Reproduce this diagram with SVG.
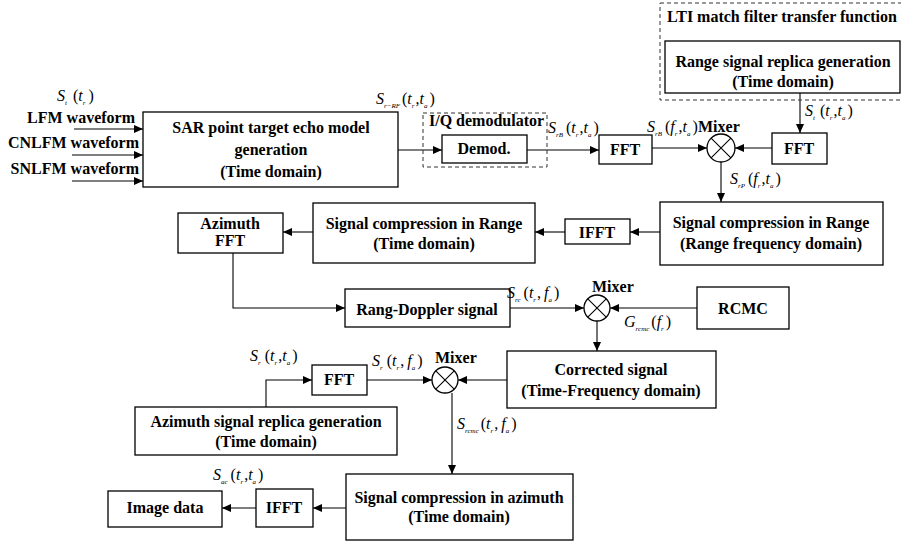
<svg xmlns="http://www.w3.org/2000/svg" width="901" height="541" viewBox="0 0 901 541">
<style>
.box{fill:#fff;stroke:#000;stroke-width:1.3}
.dash{fill:none;stroke:#333;stroke-width:1;stroke-dasharray:4,3}
.ln{fill:none;stroke:#000;stroke-width:1.1}
.t{font-family:"Liberation Serif","Times New Roman",serif;font-weight:bold;font-size:16px;fill:#000}
.c{text-anchor:middle}
.m{font-family:"Liberation Serif","Times New Roman",serif;font-style:italic;font-size:16px;fill:#000}
.s{font-size:7px}
.u{font-style:normal}
</style>
<defs>
<marker id="ah" markerWidth="9" markerHeight="8" refX="9" refY="4" orient="auto" markerUnits="userSpaceOnUse">
<path d="M0,0 L9,4 L0,8 Z" fill="#000"/>
</marker>
</defs>

<g id="connectors">
<line class="ln" x1="74" y1="129" x2="143" y2="129" marker-end="url(#ah)"/>
<line class="ln" x1="72" y1="155" x2="143" y2="155" marker-end="url(#ah)"/>
<line class="ln" x1="72" y1="181" x2="143" y2="181" marker-end="url(#ah)"/>
<line class="ln" x1="398" y1="150" x2="442" y2="150" marker-end="url(#ah)"/>
<line class="ln" x1="527" y1="150" x2="599" y2="150" marker-end="url(#ah)"/>
<line class="ln" x1="652" y1="148" x2="707" y2="148" marker-end="url(#ah)"/>
<line class="ln" x1="772" y1="148" x2="735" y2="148" marker-end="url(#ah)"/>
<line class="ln" x1="800" y1="93" x2="800" y2="133" marker-end="url(#ah)"/>
<line class="ln" x1="721" y1="162" x2="721" y2="202" marker-end="url(#ah)"/>
<line class="ln" x1="660" y1="232" x2="630" y2="232" marker-end="url(#ah)"/>
<line class="ln" x1="565" y1="232" x2="535" y2="232" marker-end="url(#ah)"/>
<line class="ln" x1="313" y1="232" x2="283" y2="232" marker-end="url(#ah)"/>
<polyline class="ln" points="233,253 233,308 345,308" marker-end="url(#ah)"/>
<line class="ln" x1="510" y1="308" x2="584" y2="308" marker-end="url(#ah)"/>
<line class="ln" x1="697" y1="308" x2="610" y2="308" marker-end="url(#ah)"/>
<line class="ln" x1="597" y1="321" x2="597" y2="351" marker-end="url(#ah)"/>
<line class="ln" x1="507" y1="380" x2="458" y2="380" marker-end="url(#ah)"/>
<line class="ln" x1="367" y1="380" x2="432" y2="380" marker-end="url(#ah)"/>
<polyline class="ln" points="266,407 266,380 312,380" marker-end="url(#ah)"/>
<line class="ln" x1="452" y1="393" x2="452" y2="474" marker-end="url(#ah)"/>
<line class="ln" x1="346" y1="508" x2="313" y2="508" marker-end="url(#ah)"/>
<line class="ln" x1="256" y1="508" x2="222" y2="508" marker-end="url(#ah)"/>
</g>

<g id="inputs">
<text class="t" x="135" y="123" text-anchor="end">LFM waveform</text>
<text class="t" x="139" y="148" text-anchor="end">CNLFM waveform</text>
<text class="t" x="139" y="174" text-anchor="end">SNLFM waveform</text>
</g>

<g id="sar">
<rect class="box" x="143" y="112" width="255" height="75"/>
<text class="t c" x="271" y="133">SAR point target echo model</text>
<text class="t c" x="271" y="155">generation</text>
<text class="t c" x="271" y="177">(Time domain)</text>
</g>

<g id="iq">
<rect class="dash" x="423" y="113" width="124" height="54"/>
<text class="t" x="429" y="126">I/Q demodulator</text>
</g>
<g id="demod">
<rect class="box" x="442" y="135" width="85" height="28"/>
<text class="t c" x="484" y="154">Demod.</text>
</g>

<g id="fft1">
<rect class="box" x="599" y="135" width="53" height="29"/>
<text class="t c" x="625" y="155">FFT</text>
</g>

<g id="lti">
<rect class="dash" x="660" y="3" width="243" height="97"/>
<text class="t" x="667" y="22">LTI match filter transfer function</text>
</g>
<g id="range-replica">
<rect class="box" x="665" y="41" width="235" height="52"/>
<text class="t c" x="783" y="67">Range signal replica generation</text>
<text class="t c" x="783" y="87">(Time domain)</text>
</g>

<g id="fft2">
<rect class="box" x="772" y="133" width="55" height="31"/>
<text class="t c" x="799" y="154">FFT</text>
</g>

<g id="mixer1">
<circle class="box" cx="721" cy="148" r="14"/>
<path class="ln" d="M711.1,138.1 L730.9,157.9 M730.9,138.1 L711.1,157.9"/>
<text class="t" x="698" y="132">Mixer</text>
</g>

<g id="src-range-freq">
<rect class="box" x="660" y="202" width="223" height="63"/>
<text class="t c" x="771" y="228">Signal compression in Range</text>
<text class="t c" x="771" y="249">(Range frequency domain)</text>
</g>

<g id="ifft1">
<rect class="box" x="565" y="219" width="65" height="25"/>
<text class="t c" x="597" y="238">IFFT</text>
</g>

<g id="src-range-time">
<rect class="box" x="313" y="203" width="222" height="60"/>
<text class="t c" x="424" y="229">Signal compression in Range</text>
<text class="t c" x="424" y="249">(Time domain)</text>
</g>

<g id="az-fft">
<rect class="box" x="178" y="213" width="105" height="40"/>
<text class="t c" x="230" y="229">Azimuth</text>
<text class="t c" x="230" y="246">FFT</text>
</g>

<g id="rd">
<rect class="box" x="345" y="289" width="165" height="38"/>
<text class="t c" x="427" y="315">Rang-Doppler signal</text>
</g>

<g id="mixer2">
<circle class="box" cx="597" cy="308" r="13"/>
<path class="ln" d="M587.8,298.8 L606.2,317.2 M606.2,298.8 L587.8,317.2"/>
<text class="t" x="592" y="292">Mixer</text>
</g>

<g id="rcmc">
<rect class="box" x="697" y="287" width="92" height="42"/>
<text class="t c" x="743" y="314">RCMC</text>
</g>

<g id="corrected">
<rect class="box" x="507" y="351" width="209" height="57"/>
<text class="t c" x="611" y="375">Corrected signal</text>
<text class="t c" x="611" y="396">(Time-Frequency domain)</text>
</g>

<g id="mixer3">
<circle class="box" cx="445" cy="380" r="13"/>
<path class="ln" d="M435.8,370.8 L454.2,389.2 M454.2,370.8 L435.8,389.2"/>
<text class="t" x="435" y="363">Mixer</text>
</g>

<g id="fft3">
<rect class="box" x="312" y="365" width="55" height="30"/>
<text class="t c" x="339" y="385">FFT</text>
</g>

<g id="az-replica">
<rect class="box" x="135" y="407" width="262" height="48"/>
<text class="t c" x="266" y="427">Azimuth signal replica generation</text>
<text class="t c" x="266" y="447">(Time domain)</text>
</g>

<g id="sc-az">
<rect class="box" x="346" y="474" width="227" height="66"/>
<text class="t c" x="459" y="503">Signal compression in azimuth</text>
<text class="t c" x="459" y="522">(Time domain)</text>
</g>

<g id="ifft2">
<rect class="box" x="256" y="489" width="57" height="38"/>
<text class="t c" x="284" y="513">IFFT</text>
</g>

<g id="image">
<rect class="box" x="108" y="491" width="114" height="36"/>
<text class="t c" x="165" y="513">Image data</text>
</g>

<g id="labels">
<text class="m" x="57" y="101">S<tspan class="s" dy="4">t</tspan><tspan class="u" dy="-4" dx="6">(</tspan>t<tspan class="s" dy="4">r</tspan><tspan class="u" dy="-4" dx="3">)</tspan></text>
<text class="m" x="376" y="104">S<tspan class="s" dy="4">r−RF</tspan><tspan class="u" dy="-4" dx="2">(</tspan>t<tspan class="s" dy="4">r</tspan><tspan class="u" dy="-4" dx="1">,</tspan>t<tspan class="s" dy="4">a</tspan><tspan class="u" dy="-4" dx="2">)</tspan></text>
<text class="m" x="548" y="133">S<tspan class="s" dy="4">rB</tspan><tspan class="u" dy="-4" dx="3">(</tspan>t<tspan class="s" dy="4">r</tspan><tspan class="u" dy="-4" dx="1">,</tspan>t<tspan class="s" dy="4">a</tspan><tspan class="u" dy="-4" dx="2">)</tspan></text>
<text class="m" x="647" y="132">S<tspan class="s" dy="4">rB</tspan><tspan class="u" dy="-4" dx="3">(</tspan>f<tspan class="s" dy="4">r</tspan><tspan class="u" dy="-4" dx="1">,</tspan>t<tspan class="s" dy="4">a</tspan><tspan class="u" dy="-4" dx="2">)</tspan></text>
<text class="m" x="805" y="116">S<tspan class="s" dy="4">t</tspan><tspan class="u" dy="-4" dx="5">(</tspan>t<tspan class="s" dy="4">r</tspan><tspan class="u" dy="-4" dx="1">,</tspan>t<tspan class="s" dy="4">a</tspan><tspan class="u" dy="-4" dx="2">)</tspan></text>
<text class="m" x="730" y="184">S<tspan class="s" dy="4">rP</tspan><tspan class="u" dy="-4" dx="3">(</tspan>f<tspan class="s" dy="4">r</tspan><tspan class="u" dy="-4" dx="1">,</tspan>t<tspan class="s" dy="4">a</tspan><tspan class="u" dy="-4" dx="2">)</tspan></text>
<text class="m" x="507" y="298">S<tspan class="s" dy="4">rc</tspan><tspan class="u" dy="-4" dx="3">(</tspan>t<tspan class="s" dy="4">r</tspan><tspan class="u" dy="-4" dx="1">,</tspan><tspan dx="3">f</tspan><tspan class="s" dy="4">a</tspan><tspan class="u" dy="-4" dx="2">)</tspan></text>
<text class="m" x="624" y="327">G<tspan class="s" dy="4">rcmc</tspan><tspan class="u" dy="-4" dx="2">(</tspan>f<tspan class="s" dy="4">r</tspan><tspan class="u" dy="-4" dx="2">)</tspan></text>
<text class="m" x="250" y="361">S<tspan class="s" dy="4">r</tspan><tspan class="u" dy="-4" dx="4">(</tspan>t<tspan class="s" dy="4">r</tspan><tspan class="u" dy="-4" dx="1">,</tspan>t<tspan class="s" dy="4">a</tspan><tspan class="u" dy="-4" dx="2">)</tspan></text>
<text class="m" x="372" y="366">S<tspan class="s" dy="4">r</tspan><tspan class="u" dy="-4" dx="4">(</tspan>t<tspan class="s" dy="4">r</tspan><tspan class="u" dy="-4" dx="1">,</tspan><tspan dx="3">f</tspan><tspan class="s" dy="4">a</tspan><tspan class="u" dy="-4" dx="2">)</tspan></text>
<text class="m" x="457" y="429">S<tspan class="s" dy="4">rcmc</tspan><tspan class="u" dy="-4" dx="2">(</tspan>t<tspan class="s" dy="4">r</tspan><tspan class="u" dy="-4" dx="1">,</tspan><tspan dx="3">f</tspan><tspan class="s" dy="4">a</tspan><tspan class="u" dy="-4" dx="2">)</tspan></text>
<text class="m" x="213" y="480">S<tspan class="s" dy="4">ac</tspan><tspan class="u" dy="-4" dx="3">(</tspan>t<tspan class="s" dy="4">r</tspan><tspan class="u" dy="-4" dx="1">,</tspan>t<tspan class="s" dy="4">a</tspan><tspan class="u" dy="-4" dx="2">)</tspan></text>
</g>
</svg>
